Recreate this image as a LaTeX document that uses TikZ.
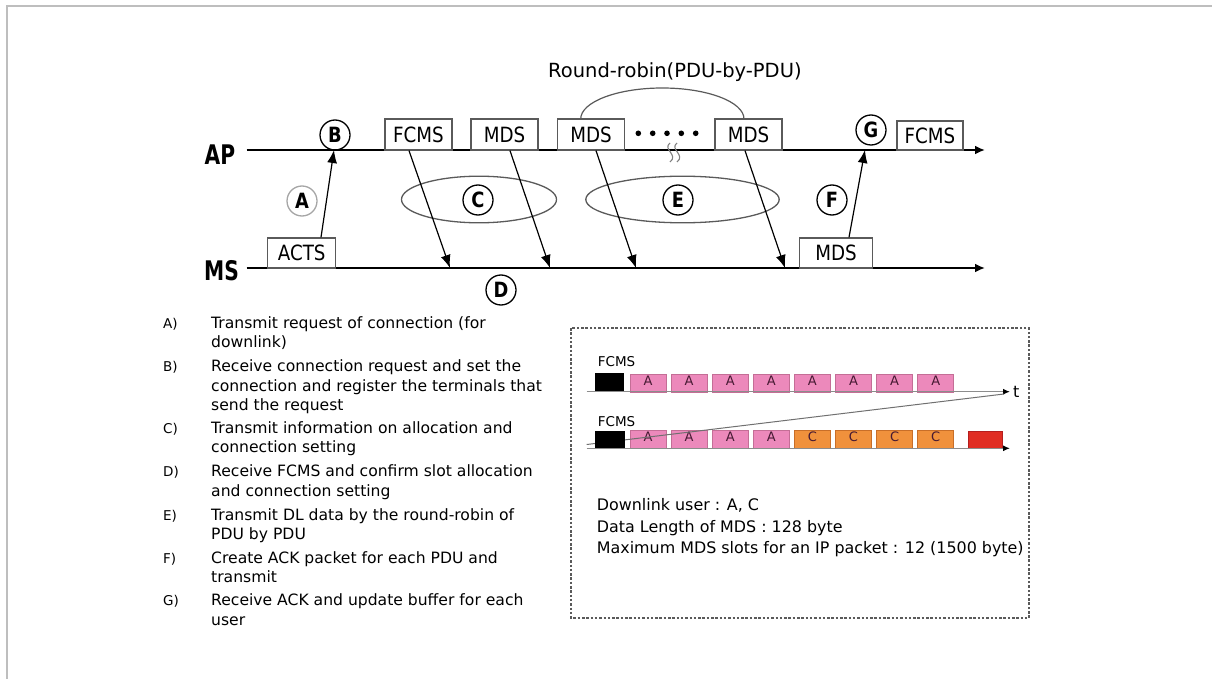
\documentclass[tikz,border=0pt]{standalone}
\usepackage{fontspec}
\setmainfont{DejaVu Sans}
\newfontfamily\tahoma[FakeStretch=0.87]{DejaVu Sans}
\newfontfamily\tahomab[FakeStretch=0.85]{DejaVu Sans Bold}
\newfontfamily\apfont[FakeStretch=0.75]{DejaVu Sans Bold}
\usetikzlibrary{arrows.meta}
\definecolor{pinkF}{RGB}{236,137,187}
\definecolor{pinkD}{RGB}{196,110,150}
\definecolor{orF}{RGB}{240,145,60}
\definecolor{orD}{RGB}{200,110,40}
\definecolor{redF}{RGB}{224,45,35}
\definecolor{redD}{RGB}{180,30,30}
\definecolor{frameG}{RGB}{190,190,190}
\definecolor{boxG}{RGB}{90,90,90}
\definecolor{axisG}{RGB}{140,140,140}
\definecolor{slotT}{RGB}{70,25,50}
\begin{document}
\begin{tikzpicture}[x=1pt,y=-1pt,
  timeline/.style={line width=2.2pt,-{Latex[length=10pt,width=9pt]}},
  msg/.style={line width=1.2pt,-{Latex[length=13pt,width=10pt]}},
  pkt/.style={draw=boxG,line width=1.3pt,inner sep=0pt,font=\fontsize{21}{21}\tahoma},
  stepcirc/.style={circle,draw,line width=1.3pt,minimum size=30pt,inner sep=0pt,font=\fontsize{21}{21}\tahomab},
  bigl/.style={inner sep=0pt,font=\fontsize{27}{27}\apfont},
  listline/.style={anchor=base west,inner sep=0pt,font=\fontsize{15.6}{19}\selectfont},
  infoline/.style={anchor=base west,inner sep=0pt,font=\fontsize{15.9}{19}\selectfont},
  listlab/.style={anchor=base west,inner sep=0pt,font=\fontsize{13.5}{14}\selectfont},
  slot/.style={line width=0.8pt,minimum width=36pt,minimum height=18pt,inner sep=0pt,text depth=5pt,font=\fontsize{13}{13}\selectfont,text=slotT},
  slotA/.style={slot,draw=pinkD,fill=pinkF},
  slotC/.style={slot,draw=orD,fill=orF},
  axis/.style={draw=axisG,line width=1.3pt,-{Latex[length=7pt,width=6pt,color=black]}},
  small/.style={anchor=base west,inner sep=0pt,font=\fontsize{13.5}{14}\selectfont}
]
\useasboundingbox (0,0) rectangle (1212,679);
\draw[frameG,line width=2pt] (7,679) -- (7,6) -- (1212,6);

% time lines
\coordinate (apS) at (246.7,150); \coordinate (apE) at (985,150);
\coordinate (msS) at (246.7,268); \coordinate (msE) at (985,268);
\draw[timeline] (apS) -- (apE);
\draw[timeline] (msS) -- (msE);
\node[bigl] (aplab) at (220,155) {AP};
\node[bigl] (mslab) at (221.5,271) {MS};

% packets
\node[pkt,minimum width=67pt,minimum height=31pt] (fcms1) at (418.5,134.5) {FCMS};
\node[pkt,minimum width=67pt,minimum height=31pt] (mds1) at (504.5,134.5) {MDS};
\node[pkt,minimum width=67pt,minimum height=31pt] (mds2) at (591,134.5) {MDS};
\node[pkt,minimum width=67pt,minimum height=31pt] (mds3) at (748.5,134.5) {MDS};
\node[pkt,minimum width=66pt,minimum height=29pt] (fcms2) at (930,135.5) {FCMS};
\node[pkt,minimum width=68pt,minimum height=30pt] (acts) at (301.7,253) {ACTS};
\node[pkt,minimum width=73pt,minimum height=30pt] (mdsl) at (836,253) {MDS};

% round robin arc
\draw[boxG,line width=1.2pt] (580.7,119) .. controls (580.7,101.9) and (617.2,88) .. (662.3,88)
   .. controls (707.4,88) and (744,101.9) .. (744,119);
\node[anchor=base west,inner sep=0pt,font=\fontsize{19.5}{20}\selectfont] (rr) at (548,78) {Round-robin(PDU-by-PDU)};

% dots and break mark
\foreach \x in {638.3,652.7,667,681.3,695.7}
  \fill (\x,133.3) circle[radius=2.8pt];
\draw[gray,line width=1.1pt] (670,143) .. controls (662,149) and (679,155) .. (670,162);
\draw[gray,line width=1.1pt] (677,143) .. controls (669,149) and (686,155) .. (677,162);

% ellipses
\draw[boxG,line width=1.3pt] (479,199.5) ellipse[x radius=77.5pt,y radius=23.3pt];
\draw[boxG,line width=1.3pt] (682.5,199.5) ellipse[x radius=96.7pt,y radius=23.3pt];

% step circles
\node[stepcirc,draw=black!35] (cA) at (302,201) {A};
\node[stepcirc] (cB) at (335,135) {B};
\node[stepcirc] (cC) at (478,200) {C};
\node[stepcirc] (cD) at (501,290) {D};
\node[stepcirc] (cE) at (678,200) {E};
\node[stepcirc] (cF) at (832,200) {F};
\node[stepcirc] (cG) at (871,130) {G};

% messages
\coordinate (tB) at (334,150);
\coordinate (t1) at (450,268);
\coordinate (t2) at (550,268);
\coordinate (t3) at (636,268);
\coordinate (t4) at (785,268);
\coordinate (tG) at (865,150);
\draw[msg] ([xshift=19.3pt]acts.north) -- (tB);
\draw[msg] ([xshift=-9.5pt]fcms1.south) -- (t1);
\draw[msg] ([xshift=5.5pt]mds1.south) -- (t2);
\draw[msg] ([xshift=5pt]mds2.south) -- (t3);
\draw[msg] ([xshift=-3.5pt]mds3.south) -- (t4);
\draw[msg] ([xshift=13pt]mdsl.north) -- (tG);

% list
\node[listlab] (la) at (163,328.3) {A)};
\node[listline] (la1) at (211,328.3) {Transmit request of connection (for};
\node[listline] (la2) at (211,347.6) {downlink)};
\node[listlab] (lb) at (163,371.7) {B)};
\node[listline] (lb1) at (211,371.7) {Receive connection request and set the};
\node[listline] (lb2) at (211,391) {connection and register the terminals that};
\node[listline] (lb3) at (211,410.3) {send the request};
\node[listlab] (lc) at (163,433.3) {C)};
\node[listline] (lc1) at (211,433.3) {Transmit information on allocation and};
\node[listline] (lc2) at (211,452.6) {connection setting};
\node[listlab] (ld) at (163,476.7) {D)};
\node[listline] (ld1) at (211,476.7) {Receive FCMS and confirm slot allocation};
\node[listline] (ld2) at (211,496) {and connection setting};
\node[listlab] (le) at (163,520) {E)};
\node[listline] (le1) at (211,520) {Transmit DL data by the round-robin of};
\node[listline] (le2) at (211,539.3) {PDU by PDU};
\node[listlab] (lf) at (163,563.3) {F)};
\node[listline] (lf1) at (211,563.3) {Create ACK packet for each PDU and};
\node[listline] (lf2) at (211,582.6) {transmit};
\node[listlab] (lg) at (163,605.7) {G)};
\node[listline] (lg1) at (211,605.7) {Receive ACK and update buffer for each};
\node[listline] (lg2) at (211,625) {user};

% right dashed box
\draw[boxG,line width=1.1pt,dash pattern=on 2.5pt off 1.8pt] (571,328) rectangle (1029,618);
\node[small] (f1) at (597.7,366) {FCMS};
\node[small] (f2) at (597.7,426) {FCMS};
\coordinate (r1S) at (586.7,391.7); \coordinate (r1E) at (1010,391.7);
\coordinate (r2S) at (586.7,448.3); \coordinate (r2E) at (1010,448.3);
\coordinate (dS) at (586.7,444.5); \coordinate (dE) at (1004,394);
\foreach \i in {0,...,7}
  \node[slotA] (ra\i) at ({648+41.1*\i},383) {A};
\foreach \i in {0,...,3}
  \node[slotA] (rb\i) at ({648+41.1*\i},439.5) {A};
\foreach \i in {4,...,7}
  \node[slotC] (rb\i) at ({648+41.1*\i},439.5) {C};
\node[slot,draw=redD,fill=redF,minimum width=34pt,minimum height=16.3pt] (red) at (985,439.8) {};
\draw[axis] (r1S) -- (r1E);
\draw[axis] (r2S) -- (r2E);
\draw[axisG!80!black,line width=1pt] (dS) -- (dE);
\node[fill=black,minimum width=29pt,minimum height=18pt,inner sep=0pt] (blk1) at (609.5,382) {};
\node[fill=black,minimum width=30pt,minimum height=16.7pt,inner sep=0pt] (blk2) at (610,439.3) {};
\node[anchor=base west,inner sep=0pt,font=\fontsize{16}{16}\selectfont] (tlab) at (1013,397) {t};

\node[infoline] (i1) at (596.7,510.7) {Downlink user : A, C};
\node[infoline] (i2) at (596.7,532.3) {Data Length of MDS : 128 byte};
\node[infoline] (i3) at (596.7,553.3) {Maximum MDS slots for an IP packet : 12 (1500 byte)};
\end{tikzpicture}
\end{document}
